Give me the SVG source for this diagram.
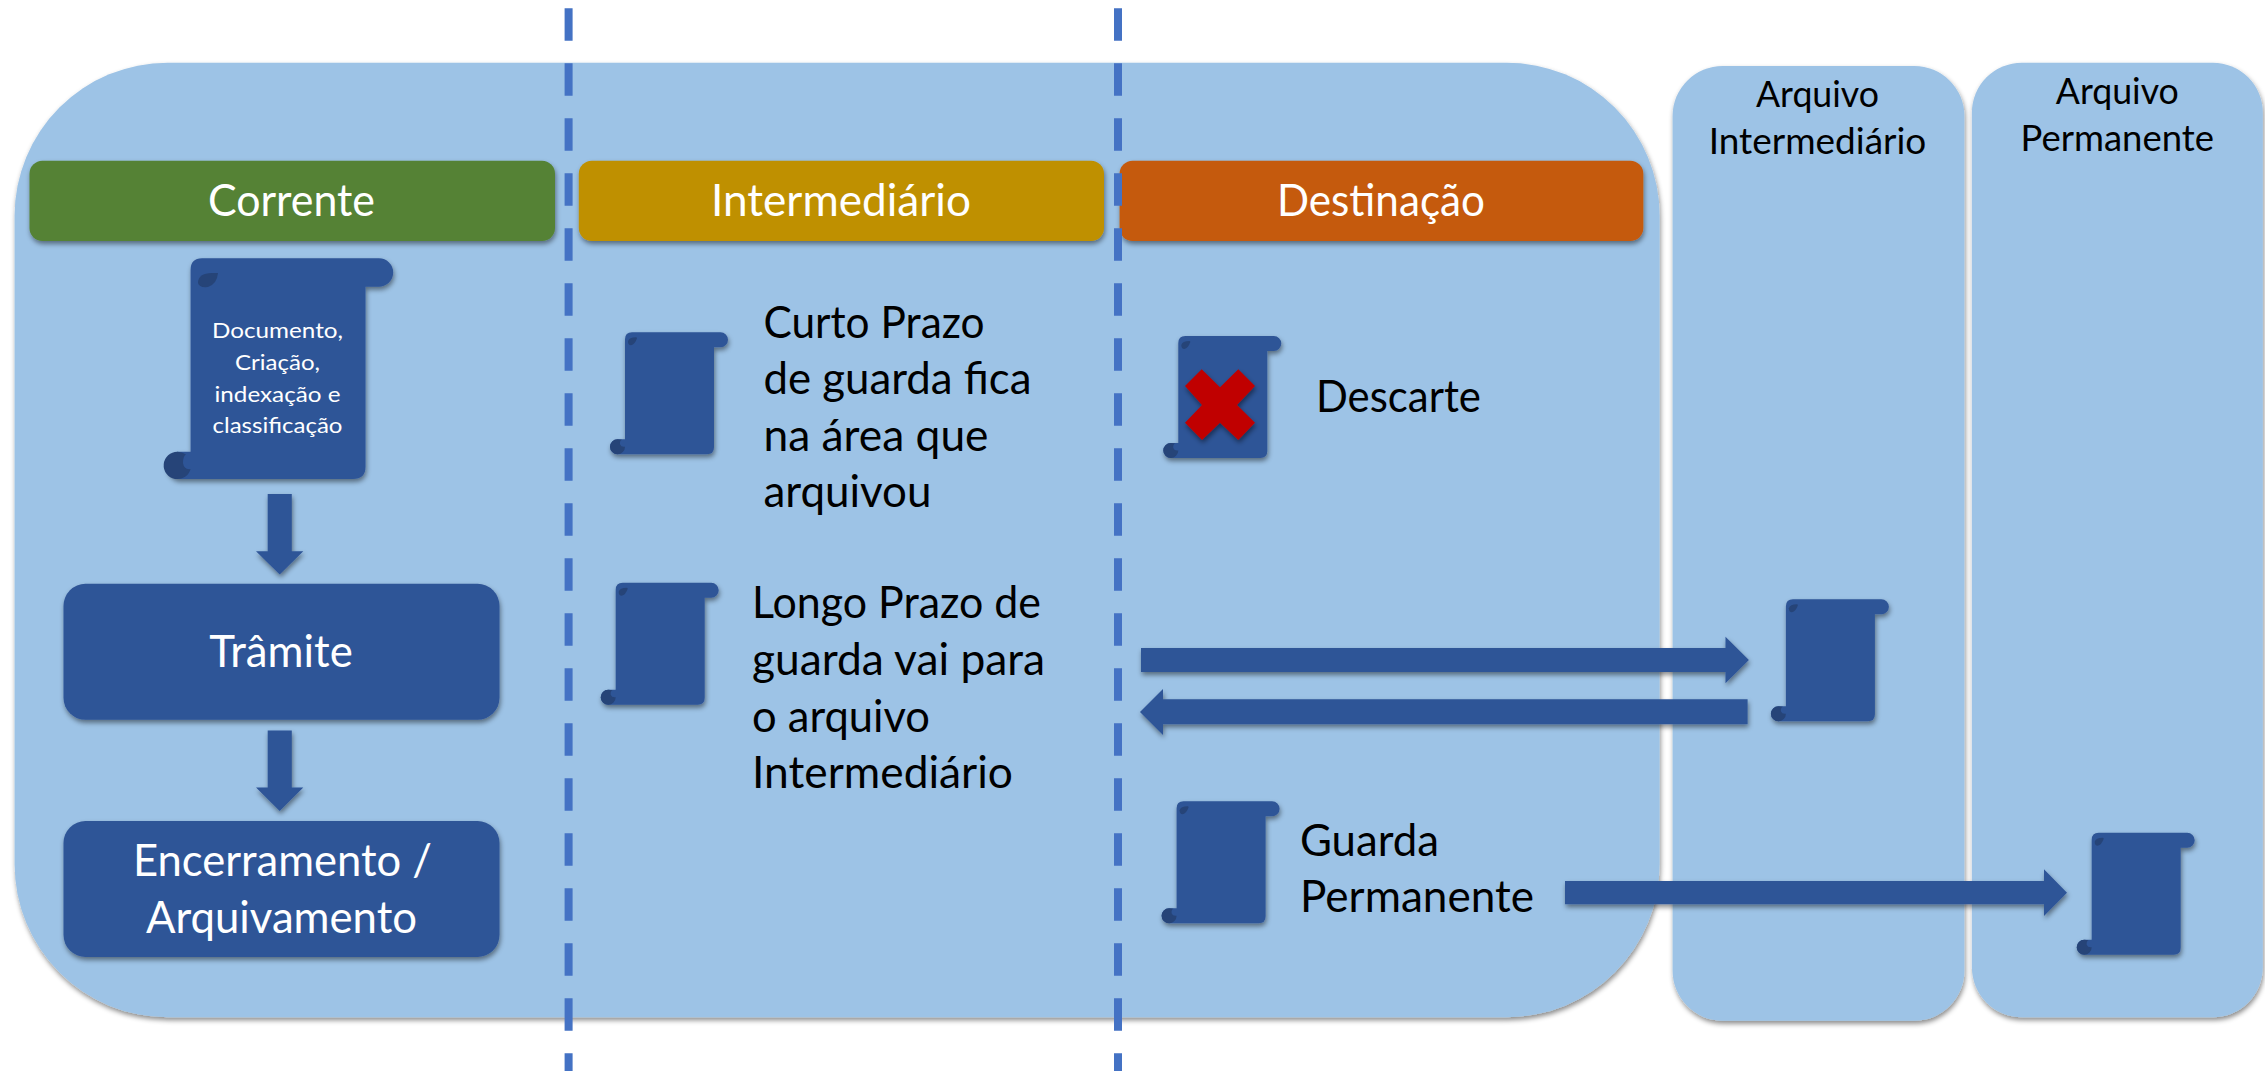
<svg xmlns="http://www.w3.org/2000/svg" width="2265" height="1071" viewBox="0 0 2265 1071">
<style>
text{font-family:"Lato","Liberation Sans",sans-serif}
.h{font-size:44px;fill:#fff;text-anchor:middle}
.b{font-size:44px;fill:#000}
.a{font-size:36px;fill:#000;text-anchor:middle}
.s{font-size:22px;fill:#fff;text-anchor:middle}
.panel{fill:#9DC3E6;filter:url(#sh)}
.blue{fill:#2F5597;filter:url(#sh)}
.dark{fill:#264478}
.dash{stroke:#4472C4;stroke-width:8;stroke-dasharray:32.5 22.5;fill:none}
</style>
<defs>
<filter id="sh" x="-10%" y="-10%" width="120%" height="125%"><feDropShadow dx="1" dy="3" stdDeviation="2.5" flood-color="#000" flood-opacity="0.45"/></filter>
<filter id="sa" x="-5%" y="-30%" width="110%" height="180%"><feDropShadow dx="1" dy="3" stdDeviation="2.5" flood-color="#000" flood-opacity="0.45"/></filter>
<g id="scroll">
<path class="blue" d="M15 7Q15 0 22 0H110.500A7.500 7.500 0 0 1 110.500 15H104V115Q104 122 97 122H7.500A7.500 7.500 0 0 1 7.500 107H15Z"/>
<path class="dark" d="M7.500 107A7.500 7.500 0 1 0 15 114.500Q11 115 10 112Q9.500 108 12 107.500Q10 107 7.500 107Z"/>
<path class="dark" d="M18 9Q19 5 26 5Q27 5 27 6Q25 12 21 13Q18 13 18 9Z"/>
</g>
</defs>
<g id="bg-main"><rect class="panel" x="14.600" y="62.700" width="1645" height="954.600" rx="153" ry="153"/></g>
<g id="arquivo-intermediario">
<rect class="panel" x="1672.600" y="66" width="291.800" height="954.700" rx="50" ry="50"/>
<text class="a" x="1817.500" y="106.700" textLength="123" lengthAdjust="spacingAndGlyphs">Arquivo</text>
<text class="a" x="1817.500" y="154" textLength="217.600" lengthAdjust="spacingAndGlyphs">Intermediário</text>
</g>
<g id="arquivo-permanente">
<rect class="panel" x="1971.900" y="62.700" width="290.900" height="954.600" rx="50" ry="50"/>
<text class="a" x="2117.300" y="103.700" textLength="123" lengthAdjust="spacingAndGlyphs">Arquivo</text>
<text class="a" x="2117.300" y="150.700" textLength="193.500" lengthAdjust="spacingAndGlyphs">Permanente</text>
</g>
<g id="corrente">
<rect x="29.500" y="160.700" width="525.500" height="80.300" rx="13" fill="#548235" filter="url(#sa)"/>
<text class="h" x="291.500" y="215.500" textLength="167" lengthAdjust="spacingAndGlyphs">Corrente</text>
</g>
<g id="intermediario">
<rect x="578.800" y="160.700" width="525.200" height="80.300" rx="13" fill="#BF9000" filter="url(#sa)"/>
<text class="h" x="841" y="215.500" textLength="260" lengthAdjust="spacingAndGlyphs">Intermediário</text>
</g>
<g id="destinacao">
<rect x="1119.600" y="160.700" width="523.700" height="80.300" rx="13" fill="#C55A11" filter="url(#sa)"/>
<text class="h" x="1381" y="215.500" textLength="208" lengthAdjust="spacingAndGlyphs">Destinação</text>
</g>
<g id="documento">
<path class="blue" d="M190.600 270Q190.600 258.300 202 258.300H379A14 14 0 0 1 379 286.700H365.500V467Q365.500 479 353 479H177.400A14 14 0 0 1 177.400 451.700H190.600Z"/>
<path class="dark" d="M177.400 451.700A13.700 13.700 0 1 0 190.600 469Q184 470 183 463Q183 456 186 454.500Q182 451.700 177.400 451.700Z"/>
<path class="dark" d="M198 283Q198 273 212 273H218Q217 284 208 287Q199 288 198 283Z"/>
<text class="s" x="277.500" y="338" textLength="131" lengthAdjust="spacingAndGlyphs">Documento,</text>
<text class="s" x="277.500" y="369.500" textLength="85" lengthAdjust="spacingAndGlyphs">Criação,</text>
<text class="s" x="277.500" y="401.500" textLength="126" lengthAdjust="spacingAndGlyphs">indexação e</text>
<text class="s" x="277.500" y="432.700" textLength="130" lengthAdjust="spacingAndGlyphs">classificação</text>
</g>
<g id="tramite">
<rect class="blue" x="63.500" y="583.800" width="436" height="136" rx="22"/>
<text class="h" x="281" y="667.400" textLength="143.500" lengthAdjust="spacingAndGlyphs">Trâmite</text>
</g>
<g id="encerramento">
<rect class="blue" x="63.500" y="821" width="436" height="136" rx="22"/>
<text class="h" x="282.500" y="876" textLength="299" lengthAdjust="spacingAndGlyphs">Encerramento /</text>
<text class="h" x="281.500" y="933" textLength="271" lengthAdjust="spacingAndGlyphs">Arquivamento</text>
</g>
<g id="curto-prazo">
<use href="#scroll" x="610" y="332.300"/>
<text class="b" x="763.500" y="337.700" textLength="221" lengthAdjust="spacingAndGlyphs">Curto Prazo</text>
<text class="b" x="763.500" y="394.300" textLength="268" lengthAdjust="spacingAndGlyphs">de guarda fica</text>
<text class="b" x="763.500" y="451" textLength="225" lengthAdjust="spacingAndGlyphs">na área que</text>
<text class="b" x="763.500" y="507.300" textLength="168" lengthAdjust="spacingAndGlyphs">arquivou</text>
</g>
<g id="longo-prazo">
<use href="#scroll" x="600.700" y="582.700"/>
<text class="b" x="752" y="618.300" textLength="289" lengthAdjust="spacingAndGlyphs">Longo Prazo de</text>
<text class="b" x="752" y="675" textLength="293" lengthAdjust="spacingAndGlyphs">guarda vai para</text>
<text class="b" x="752" y="731.700" textLength="178" lengthAdjust="spacingAndGlyphs">o arquivo</text>
<text class="b" x="752" y="788.300" textLength="261" lengthAdjust="spacingAndGlyphs">Intermediário</text>
</g>
<g id="descarte">
<use href="#scroll" x="1163.300" y="336"/>
<path d="M1201.700 369.300L1220 387.300L1238.300 369.300L1255 386L1237 405L1255 422.700L1238.300 440L1220 422.700L1202 440L1185 422.700L1202 405L1185 386Z" fill="#C00000" filter="url(#sh)"/>
<text class="b" x="1316" y="411.700" textLength="165" lengthAdjust="spacingAndGlyphs">Descarte</text>
</g>
<g id="guarda-permanente">
<use href="#scroll" x="1161.600" y="801.300"/>
<text class="b" x="1300" y="855.700" textLength="139" lengthAdjust="spacingAndGlyphs">Guarda</text>
<text class="b" x="1300" y="912.300" textLength="234" lengthAdjust="spacingAndGlyphs">Permanente</text>
</g>
<g id="doc-arquivo-intermediario"><use href="#scroll" x="1770.900" y="599.300"/></g>
<g id="doc-arquivo-permanente"><use href="#scroll" x="2076.700" y="832.700"/></g>
<g id="connectors">
<path class="blue" d="M267.700 494H291.800V551.300H303.300L279.700 574.600L256 551.300H267.700Z"/>
<path class="blue" d="M267.700 730.600H291.800V787.400H303.300L279.700 811L256 787.400H267.700Z"/>
<path class="blue" d="M1141 648H1725.500V636.700L1748.900 660L1725.500 683.300V672H1141Z"/>
<path class="blue" d="M1747.600 699.300H1163V689L1140 712L1163 735V724.300H1747.600Z"/>
<path class="blue" d="M1565 881H2044V869.300L2067 892.700L2044 916V904.300H1565Z"/>
<path class="dash" d="M568.600 8.300V1071"/>
<path class="dash" d="M1118 8.300V1071"/>
</g>
</svg>
